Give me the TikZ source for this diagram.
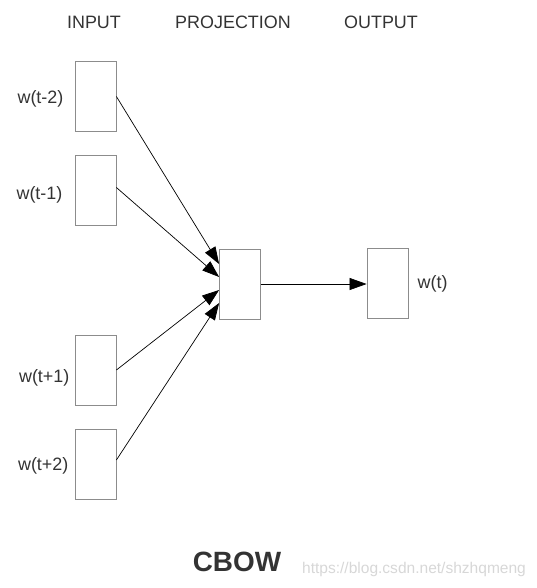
\documentclass[tikz,border=0pt]{standalone}
\usepackage{fontspec}
\setmainfont{Liberation Sans}
\usepackage{xcolor}
\usetikzlibrary{arrows.meta,positioning}
\definecolor{txt}{RGB}{51,51,51}
\definecolor{edge}{RGB}{140,140,140}
\definecolor{wmark}{RGB}{215,215,215}

\begin{document}
\begin{tikzpicture}[x=1bp, y=-1bp,
    cell/.style={draw=edge, line width=0.8bp, fill=white, inner sep=0pt,
                 minimum width=41bp, minimum height=70bp},
    lbl/.style={font=\fontsize{18}{21}\selectfont, text=txt, inner sep=0pt},
    arr/.style={-{Triangle[length=17bp,width=12bp]}, line width=0.7bp, black},
    node distance=12bp]

    \useasboundingbox (0,0) rectangle (537,588);

    % layer titles
    \node[lbl] (hin) at (94,22) {INPUT};
    \node[lbl] (hproj) at (233,22) {PROJECTION};
    \node[lbl] (hout) at (381,22) {OUTPUT};

    % input words
    \node[cell] (in1) at (95.5,96.5) {};
    \node[cell] (in2) at (95.5,190.5) {};
    \node[cell] (in3) at (95.5,370) {};
    \node[cell] (in4) at (95.5,464) {};
    \node[lbl, left=11bp of in1, yshift=-2bp] (win1) {w(t-2)};
    \node[lbl, left=12bp of in2, yshift=-4bp] (win2) {w(t-1)};
    \node[lbl, left=5bp of in3, yshift=-8bp] (win3) {w(t+1)};
    \node[lbl, left=6bp of in4, yshift=-2bp] (win4) {w(t+2)};

    % projection and output
    \node[cell] (proj) at (240,284) {};
    \node[cell] (out) at (387.5,283) {};
    \node[lbl, right=9bp of out, yshift=-1bp] (wout) {w(t)};

    \draw[arr] (in1.east) -- ([yshift=20bp]proj.west);
    \draw[arr] ([yshift=3bp]in2.east) -- ([yshift=7bp]proj.west);
    \draw[arr] (in3.east) -- ([yshift=-6bp]proj.west);
    \draw[arr] ([yshift=4bp]in4.east) -- ([yshift=-19bp]proj.west);
    \draw[arr] (proj.east) -- (proj.east -| out.west);

    % caption
    \node[font=\fontsize{28}{32}\selectfont\bfseries, text=txt] (cap) at (237,562) {CBOW};
    \node[font=\fontsize{15.6}{18}\selectfont, text=wmark, inner sep=0pt] (wm) at (414,569) {https://blog.csdn.net/shzhqmeng};
\end{tikzpicture}
\end{document}
